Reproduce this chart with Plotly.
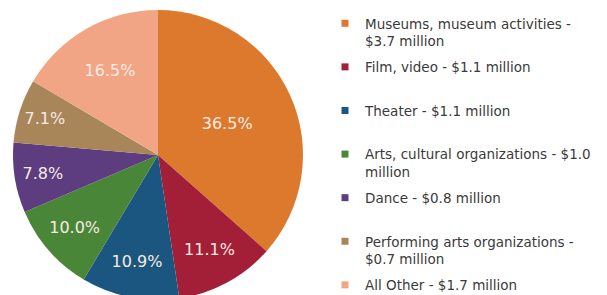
import plotly.graph_objects as go

categories = ["Museums, museum activities", "Film, video", "Theater",
              "Arts, cultural organizations", "Dance",
              "Performing arts organizations", "All Other"]
amounts_millions = [3.7, 1.1, 1.1, 1.0, 0.8, 0.7, 1.7]
shares_pct = [36.5, 11.1, 10.9, 10.0, 7.8, 7.1, 16.5]
legend_labels = ["Museums, museum activities -<br>$3.7 million",
                 "Film, video - $1.1 million<br> ",
                 "Theater - $1.1 million<br> ",
                 "Arts, cultural organizations - $1.0<br>million",
                 "Dance - $0.8 million<br> ",
                 "Performing arts organizations -<br>$0.7 million",
                 "All Other - $1.7 million"]
colors = ["#dc792d", "#a21f37", "#1b5680", "#4a8637", "#5d3c80", "#a8865a", "#f2a584"]

W, H = 607, 295
# page body adds an 8px offset; figure coordinates below account for it
cx, cy, r = 150, 147, 145

fig = go.Figure()
fig.add_trace(go.Pie(
    labels=categories, values=shares_pct,
    text=[f"{v:.1f}%" for v in shares_pct], textinfo="text",
    textposition="inside", insidetextorientation="horizontal",
    textfont=dict(family="DejaVu Sans", size=16, color="#f6ebe4"),
    marker=dict(colors=colors, line=dict(width=0)),
    sort=False, direction="clockwise", rotation=0,
    showlegend=False, hoverinfo="label+value",
    domain=dict(x=[(cx - r) / W, (cx + r) / W],
                y=[1 - (cy + r) / H, 1 - (cy - r) / H]),
))
for lab, col in zip(legend_labels, colors):
    fig.add_trace(go.Scatter(
        x=[None], y=[None], mode="markers", name=lab, legendgroup=lab,
        marker=dict(symbol="square", size=7, color=col),
        showlegend=True,
    ))

fig.update_layout(
    width=W, height=H,
    margin=dict(l=0, r=0, t=0, b=0),
    paper_bgcolor="white", plot_bgcolor="white",
    xaxis=dict(visible=False), yaxis=dict(visible=False),
    legend=dict(x=317 / W, xanchor="left", y=1, yanchor="top",
                font=dict(family="DejaVu Sans", size=13.5, color="#3a3a3a"),
                traceorder="grouped", tracegroupgap=5.5, valign="top",
                bgcolor="rgba(0,0,0,0)"),
)
fig.write_html("out.html")
